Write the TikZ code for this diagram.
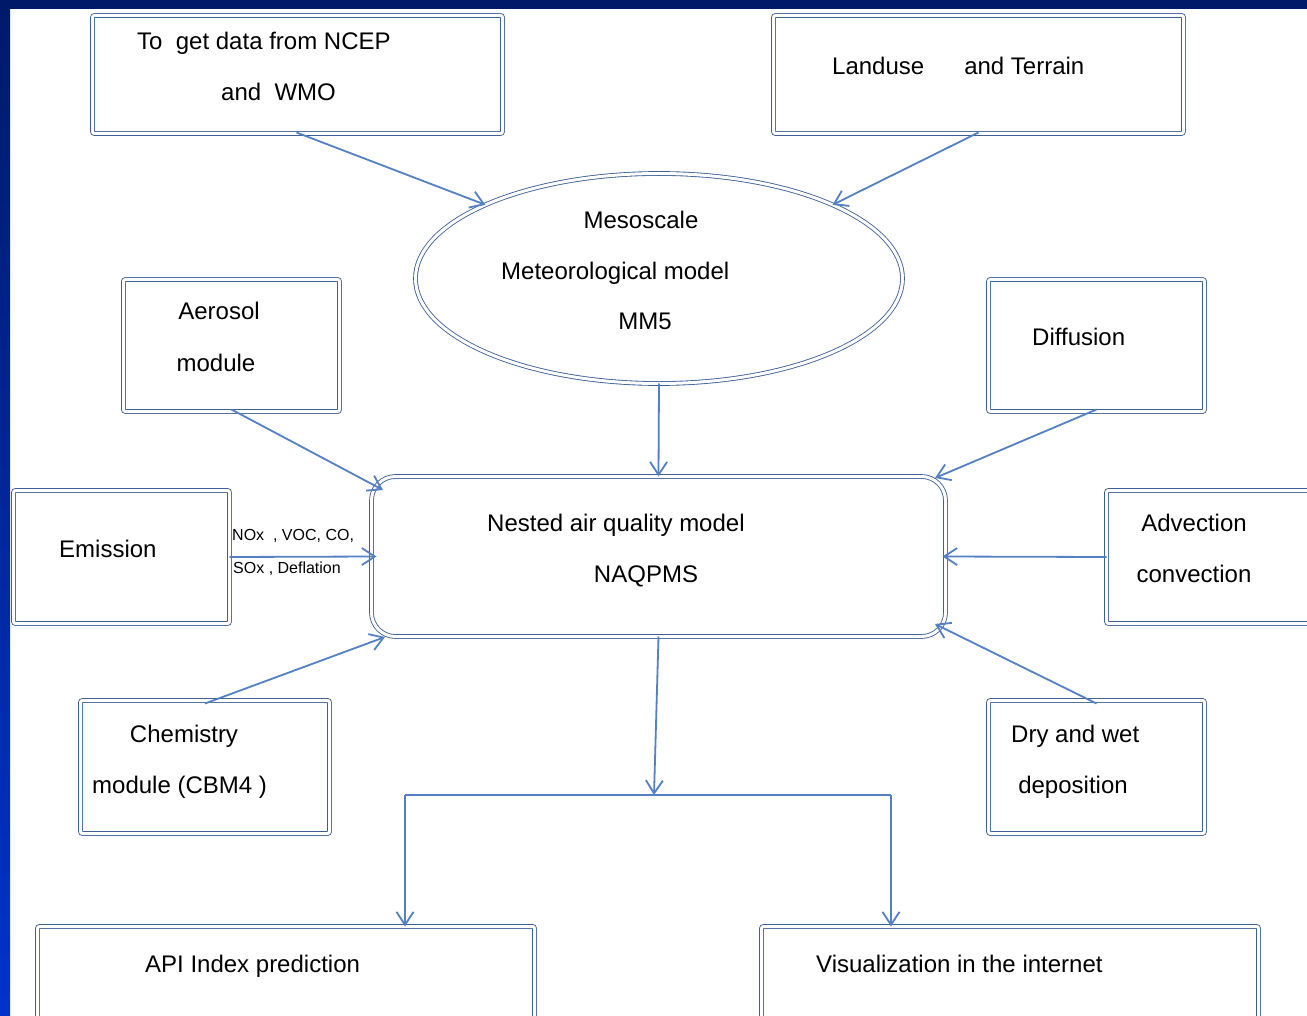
\documentclass[tikz,border=0pt]{standalone}
\usepackage{fontspec}
\setmainfont{Liberation Sans}
\usetikzlibrary{shapes.geometric,arrows.meta}
\definecolor{navy}{RGB}{0,26,106}
\definecolor{sideblue}{RGB}{0,51,204}
\definecolor{boxc}{RGB}{62,96,150}
\definecolor{arrc}{RGB}{84,128,196}
\begin{document}
\begin{tikzpicture}[x=1pt,y=-1pt,
 box/.style={draw=boxc, double=white, double distance=3pt, line width=0.85pt, rounded corners=2pt, inner sep=0pt, outer sep=0pt},
 txt/.style={font=\fontsize{24}{28}\selectfont, inner sep=0pt, text=black},
 small/.style={font=\fontsize{16}{19}\selectfont, inner sep=0pt, text=black},
 arr/.style={draw=arrc, line width=1.8pt, -{Straight Barb[length=13pt,width=17pt,line width=1.8pt]}},
 ln/.style={draw=arrc, line width=1.8pt}]
\useasboundingbox (0,0) rectangle (1307,1016);
\fill[white] (0,0) rectangle (1307,1016);
\shade[top color=navy, bottom color=sideblue] (0,0) rectangle (10,1016);
\fill[navy] (0,0) rectangle (1307,9);

% boxes
\node[box, minimum width=410pt, minimum height=118pt] (ncep) at (297.5,74.5) {};
\node[box, minimum width=410pt, minimum height=118pt] (land) at (978.5,74.5) {};
\node[box, ellipse, minimum width=487pt, minimum height=210pt] (mm5) at (659,278.5) {};
\node[box, minimum width=216pt, minimum height=132pt] (aer) at (231.5,345.5) {};
\node[box, minimum width=216pt, minimum height=132pt] (diff) at (1096.5,345.5) {};
\node[box, minimum width=216pt, minimum height=133pt] (emis) at (121.5,557) {};
\node[box, rounded corners=24pt, minimum width=574pt, minimum height=160pt] (naq) at (658.5,556.5) {};
\node[box, minimum width=211pt, minimum height=133pt] (adv) at (1212,557) {};
\node[box, minimum width=249pt, minimum height=133pt] (chem) at (205,767) {};
\node[box, minimum width=216pt, minimum height=133pt] (dry) at (1096.5,767) {};
\node[box, minimum width=497pt, minimum height=101pt] (api) at (286,977) {};
\node[box, minimum width=497pt, minimum height=101pt] (vis) at (1010,977) {};

% texts
\node[txt, anchor=base west] (t1) at (137,50) {To~~get data from NCEP};
\node[txt, anchor=base west] (t2) at (221,101) {and~~WMO};
\node[txt, anchor=base west] (t3) at (832,75) {Landuse\hspace{40pt}and Terrain};
\node[txt, anchor=base] (t4) at (641,229) {Mesoscale};
\node[txt, anchor=base west] (t5) at (501,280) {Meteorological model};
\node[txt, anchor=base] (t6) at (645,330) {MM5};
\node[txt, anchor=base] (t7) at (219,320) {Aerosol};
\node[txt, anchor=base] (t8) at (216,371) {module};
\node[txt, anchor=base west] (t9) at (1032,346) {Diffusion};
\node[txt, anchor=base west] (t10) at (59,557) {Emission};
\node[txt, anchor=base west] (t11) at (487,531) {Nested air quality model};
\node[txt, anchor=base] (t12) at (646,582) {NAQPMS};
\node[txt, anchor=base] (t13) at (1194,531) {Advection};
\node[txt, anchor=base] (t14) at (1194,582) {convection};
\node[txt, anchor=base] (t15) at (184,742) {Chemistry};
\node[txt, anchor=base west] (t16) at (92,793) {module (CBM4 )};
\node[txt, anchor=base west] (t17) at (1011,742) {Dry and wet};
\node[txt, anchor=base] (t18) at (1073,793) {deposition};
\node[txt, anchor=base west] (t19) at (145,972) {API Index prediction};
\node[txt, anchor=base west] (t20) at (816,972) {Visualization in the internet};
\node[small, anchor=base west] (s1) at (232,540) {NOx~~, VOC, CO,};
\node[small, anchor=base west] (s2) at (233,573) {SOx , Deflation};

% connector end points
\coordinate (aerTip) at (383,490);
\coordinate (difTip) at (935,478);
\coordinate (chemTip) at (385,637);
\coordinate (dryTip) at (935,624);
\coordinate (split) at (654,795);
\coordinate (leftT) at (405,795);
\coordinate (rightT) at (891,795);

% connectors
\draw[arr] ([xshift=-1pt,yshift=1pt]ncep.south) -- (mm5.157);
\draw[arr] ([yshift=1pt]land.south) -- (mm5.23);
\draw[arr] (mm5.south) -- (naq.north);
\draw[arr] ([yshift=2pt]aer.south) -- (aerTip);
\draw[arr] ([yshift=2pt]diff.south) -- (difTip);
\draw[arr] (emis.east) -- ([xshift=5pt]naq.west);
\draw[arr] (adv.west) -- ([xshift=-3pt]naq.east);
\draw[arr] ([yshift=-3pt]chem.north) -- (chemTip);
\draw[arr] ([yshift=-3pt]dry.north) -- (dryTip);
\draw[arr] (naq.south) -- (split);
\draw[ln] (leftT) -- (rightT);
\draw[arr] (leftT) -- (leftT |- api.north);
\draw[arr] (rightT) -- (rightT |- vis.north);
\end{tikzpicture}
\end{document}
